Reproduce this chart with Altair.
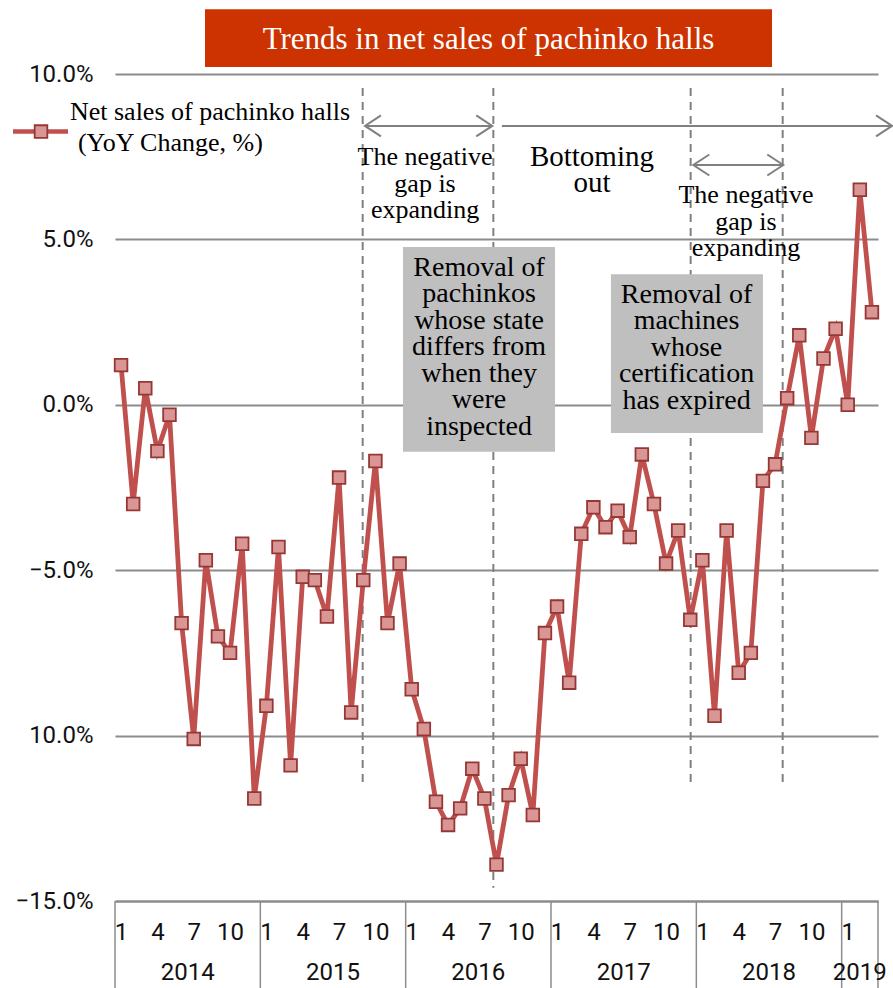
import altair as alt
import pandas as pd

# ---------------- data ----------------
year_labels = ["2014", "2015", "2016", "2017", "2018", "2019"]
months_in_year = [12, 12, 12, 12, 12, 3]
month_tick_labels = [1, 4, 7, 10]
sales_yoy = [
    1.2, -3.0, 0.5, -1.4, -0.3, -6.6, -10.1, -4.7, -7.0, -7.5, -4.2, -11.9,
    -9.1, -4.3, -10.9, -5.2, -5.3, -6.4, -2.2, -9.3, -5.3, -1.7, -6.6, -4.8,
    -8.6, -9.8, -12.0, -12.7, -12.2, -11.0, -11.9, -13.9, -11.8, -10.7, -12.4, -6.9,
    -6.1, -8.4, -3.9, -3.1, -3.7, -3.2, -4.0, -1.5, -3.0, -4.8, -3.8, -6.5,
    -4.7, -9.4, -3.8, -8.1, -7.5, -2.3, -1.8, 0.2, 2.1, -1.0, 1.4, 2.3,
    0.0, 6.5, 2.8,
]
y_ticks = [-15, -10, -5, 0, 5, 10]
y_tick_text = ["\u221215.0%", "10.0%", "\u22125.0%", "0.0%", "5.0%", "10.0%"]

title_text = "Trends in net sales of pachinko halls"
legend_lines = ["Net sales of pachinko halls", "(YoY Change, %)"]

phase_texts = [
    ["The negative", "gap is", "expanding"],
    ["Bottoming", "out"],
    ["The negative", "gap is", "expanding"],
]
box_texts = [
    ["Removal of", "pachinkos", "whose state", "differs from", "when they", "were", "inspected"],
    ["Removal of", "machines", "whose", "certification", "has expired"],
]

# ---------------- tables ----------------
rows = []
for yr, n in zip(year_labels, months_in_year):
    for m in range(1, n + 1):
        rows.append((yr, m))
df = pd.DataFrame(rows, columns=["year", "month"])
df["pos"] = df.index + 0.5
df["value"] = sales_yoy

n_months = len(df)
month_tick_pos = df.loc[df["month"].isin(month_tick_labels), "pos"].tolist()
bounds = [0]
for n in months_in_year:
    bounds.append(bounds[-1] + n)
year_centers = [(a + b) / 2 for a, b in zip(bounds[:-1], bounds[1:])]

label_expr = " : ".join(
    f"datum.value == {v} ? '{t}'" for v, t in zip(y_ticks, y_tick_text)
) + " : ''"

# ---------------- scales / axes ----------------
xs = alt.Scale(domain=[0, n_months], nice=False, zero=False)
ys = alt.Scale(domain=[-15, 10], nice=False, zero=False)
GRID = "#8c8c8c"
xaxis = alt.Axis(
    title=None, values=month_tick_pos, labelExpr="toString(floor(datum.value) % 12 + 1)",
    grid=False, ticks=False, domain=True, domainColor=GRID, domainWidth=2,
    labelFont="Roboto", labelFontSize=24, labelColor="#111111", labelPadding=31,
    labelBaseline="middle", labelFlush=False, labelOverlap=False, labelAlign="center",
)
yaxis = alt.Axis(
    title=None, values=y_ticks, labelExpr=label_expr, grid=True, gridColor=GRID,
    gridWidth=2, ticks=False, domain=False, labelFont="Roboto", labelFontSize=24,
    labelColor="#111111", labelPadding=22, labelFlush=False, labelOverlap=False,
    labelBaseline="middle",
)
X = alt.X("pos:Q", scale=xs, axis=xaxis)
Y = alt.Y("value:Q", scale=ys, axis=yaxis)

LINE = "#C0504D"
MFILL = "#D99694"
MSTROKE = "#953735"
ANN = "#808080"

# frame under the month axis
frame_df = pd.DataFrame({"pos": bounds, "value": -15, "value2": -17.63})
frame = alt.Chart(frame_df).mark_rule(color=GRID, strokeWidth=1.5).encode(
    x=X, y=Y, y2="value2:Q")

years_df = pd.DataFrame({"pos": year_centers, "value": -17.17, "label": year_labels})
years = alt.Chart(years_df).mark_text(
    font="Roboto", fontSize=24, color="#111111", baseline="middle", align="center"
).encode(x=X, y=Y, text="label:N")

# title box
title_box_df = pd.DataFrame({"pos": [7.43], "pos2": [54.25], "value": [11.96], "value2": [10.21]})
title_box = alt.Chart(title_box_df).mark_rect(color="#CC3300").encode(
    x=X, x2="pos2:Q", y=Y, y2="value2:Q")
title_df = pd.DataFrame({"pos": [30.84], "value": [11.03], "label": [title_text]})
title = alt.Chart(title_df).mark_text(
    font="Liberation Serif", fontSize=31, color="white", baseline="middle", align="center"
).encode(x=X, y=Y, text="label:N")

# legend
leg_line_df = pd.DataFrame({"pos": [-8.42], "pos2": [-3.88], "value": [8.26]})
leg_line = alt.Chart(leg_line_df).mark_rule(color=LINE, strokeWidth=4.5).encode(
    x=X, x2="pos2:Q", y=Y)
leg_pt_df = pd.DataFrame({"pos": [-6.11], "value": [8.26]})
leg_pt = alt.Chart(leg_pt_df).mark_point(
    shape="square", filled=True, fill=MFILL, stroke=MSTROKE, strokeWidth=1.8,
    size=160, opacity=1).encode(x=X, y=Y)
leg_txt_df = pd.DataFrame({"pos": [-3.72, -3.06], "value": [8.85, 7.91], "label": legend_lines})
leg_txt = alt.Chart(leg_txt_df).mark_text(
    font="Liberation Serif", fontSize=26, color="#000000", baseline="middle", align="left"
).encode(x=X, y=Y, text="label:N")

# dashed phase lines
dash_df = pd.DataFrame({"pos": [20.45, 31.24, 47.53, 55.13], "value": [9.58] * 4,
                        "value2": [-11.43, -14.60, -11.43, -11.43]})
dashes = alt.Chart(dash_df).mark_rule(color=ANN, strokeWidth=2, strokeDash=[8, 6]).encode(
    x=X, y=Y, y2="value2:Q")

# arrows
arrow_df = pd.DataFrame({"pos": [20.64, 31.95, 47.75], "pos2": [31.15, 64.16, 55.18],
                         "value": [8.43, 8.43, 7.25]})
arrows = alt.Chart(arrow_df).mark_rule(color=ANN, strokeWidth=2).encode(
    x=X, x2="pos2:Q", y=Y)
head_l_df = pd.DataFrame({"pos": [20.64, 47.75], "value": [8.43, 7.25]})
head_l = alt.Chart(head_l_df).mark_point(
    shape="M1.6,-1.05L0,0L1.6,1.05", filled=False, stroke=ANN, strokeWidth=2,
    size=400, opacity=1).encode(x=X, y=Y)
head_r_df = pd.DataFrame({"pos": [31.15, 64.16, 55.18], "value": [8.43, 8.43, 7.25]})
head_r = alt.Chart(head_r_df).mark_point(
    shape="M-1.6,-1.05L0,0L-1.6,1.05", filled=False, stroke=ANN, strokeWidth=2,
    size=400, opacity=1).encode(x=X, y=Y)

# phase texts (y = first line)
phase1_df = pd.DataFrame({"pos": [25.6, 52.1], "value": [7.49, 6.34],
                          "label": [phase_texts[0], phase_texts[2]]})
phase1 = alt.Chart(phase1_df).mark_text(
    font="Liberation Serif", fontSize=26, lineHeight=26.5, color="#000000",
    baseline="middle", align="center").encode(x=X, y=Y, text="label")
phase2_df = pd.DataFrame({"pos": [39.38], "value": [7.49], "label": [phase_texts[1]]})
phase2 = alt.Chart(phase2_df).mark_text(
    font="Liberation Serif", fontSize=29, lineHeight=26, color="#000000",
    baseline="middle", align="center").encode(x=X, y=Y, text="label")

# gray boxes
box_df = pd.DataFrame({"pos": [23.78, 40.95], "pos2": [36.33, 53.5],
                       "value": [4.77, 3.95], "value2": [-1.42, -0.85]})
boxes = alt.Chart(box_df).mark_rect(color="#BFBFBF").encode(
    x=X, x2="pos2:Q", y=Y, y2="value2:Q")
box_txt_df = pd.DataFrame({"pos": [30.06, 47.19], "value": [4.14, 3.32], "label": box_texts})
box_txt = alt.Chart(box_txt_df).mark_text(
    font="Liberation Serif", fontSize=28, lineHeight=26.5, color="#000000",
    baseline="middle", align="center").encode(x=X, y=Y, text="label")

# main series
line = alt.Chart(df).mark_line(color=LINE, strokeWidth=4.8).encode(x=X, y=Y)
pts = alt.Chart(df).mark_point(
    shape="square", filled=True, fill=MFILL, stroke=MSTROKE, strokeWidth=1.8,
    size=160, opacity=1).encode(x=X, y=Y)

chart = alt.layer(
    frame, years, dashes, arrows, head_l, head_r, phase1, phase2, boxes, box_txt,
    title_box, title, leg_line, leg_pt, leg_txt, line, pts,
).properties(
    width=763, height=827,
    padding={"left": 115, "top": 74, "right": 15, "bottom": 87},
    autosize=alt.AutoSizeParams(type="none"),
    background="white",
).configure_view(stroke=None)

chart.save("out.html", embed_options={"renderer": "svg", "actions": False})
